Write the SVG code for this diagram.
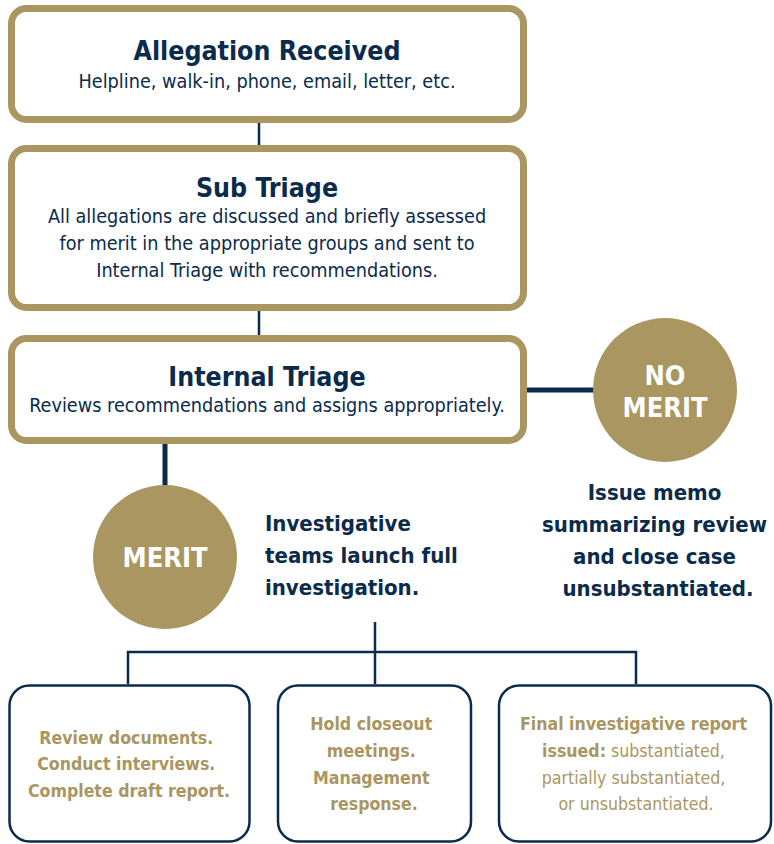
<svg xmlns="http://www.w3.org/2000/svg" width="774" height="844" viewBox="0 0 774 844">
  <style>
    .gbox { fill: #ffffff; stroke: #A99660; stroke-width: 7; }
    .nbox { fill: #ffffff; stroke: #0B2B4C; stroke-width: 2.5; }
    .disc { fill: #A99660; }
    .link { fill: none; stroke: #0B2B4C; stroke-width: 2.5; }
    .thick { fill: none; stroke: #0B2B4C; stroke-width: 5; }
    text { font-family: "DejaVu Sans Condensed", "DejaVu Sans", sans-serif; }
    .title { font-size: 26.5px; font-weight: bold; fill: #0B2B4C; text-anchor: middle; }
    .sub { font-size: 19.7px; fill: #0B2B4C; text-anchor: middle; }
    .disc-t { font-size: 27px; font-weight: bold; fill: #ffffff; text-anchor: middle; }
    .note { font-size: 22px; font-weight: bold; fill: #0B2B4C; }
    .step { font-size: 17.6px; fill: #A99660; text-anchor: middle; }
    .b { font-weight: bold; }
  </style>

  <!-- connectors -->
  <g id="connectors">
    <line class="link" x1="259" y1="122" x2="259" y2="146"/>
    <line class="link" x1="259" y1="310" x2="259" y2="336"/>
    <line class="thick" x1="525" y1="390" x2="596" y2="390"/>
    <line class="thick" x1="165" y1="442" x2="165" y2="487"/>
    <path class="link" d="M375 622 V684 M128 684 V652 H636 V684"/>
  </g>

  <g id="allegation-received">
    <rect class="gbox" x="11.5" y="8.5" width="512" height="111" rx="15"/>
    <text class="title" x="267" y="60">Allegation Received</text>
    <text class="sub" x="267" y="88">Helpline, walk-in, phone, email, letter, etc.</text>
  </g>

  <g id="sub-triage">
    <rect class="gbox" x="11.5" y="148.5" width="512" height="159" rx="15"/>
    <text class="title" x="267" y="197">Sub Triage</text>
    <text class="sub" x="267" y="223">All allegations are discussed and briefly assessed</text>
    <text class="sub" x="267" y="250">for merit in the appropriate groups and sent to</text>
    <text class="sub" x="267" y="277">Internal Triage with recommendations.</text>
  </g>

  <g id="internal-triage">
    <rect class="gbox" x="11.5" y="338.5" width="512" height="102" rx="15"/>
    <text class="title" x="267" y="386">Internal Triage</text>
    <text class="sub" x="267" y="412">Reviews recommendations and assigns appropriately.</text>
  </g>

  <g id="no-merit">
    <circle class="disc" cx="665" cy="390" r="72"/>
    <text class="disc-t" x="665" y="385">NO</text>
    <text class="disc-t" x="665" y="417">MERIT</text>
    <text class="note" text-anchor="middle">
      <tspan x="658" y="500">Issue memo</tspan>
      <tspan x="658" y="532">summarizing review</tspan>
      <tspan x="658" y="564">and close case</tspan>
      <tspan x="658" y="596">unsubstantiated.</tspan>
    </text>
  </g>

  <g id="merit">
    <circle class="disc" cx="165" cy="557" r="72"/>
    <text class="disc-t" x="165" y="567">MERIT</text>
    <text class="note">
      <tspan x="265" y="531">Investigative</tspan>
      <tspan x="265" y="563">teams launch full</tspan>
      <tspan x="265" y="595">investigation.</tspan>
    </text>
  </g>

  <g id="review-documents">
    <rect class="nbox" x="9.5" y="685.5" width="240" height="156" rx="20"/>
    <text class="step b">
      <tspan x="129" y="744">Review documents.</tspan>
      <tspan x="129" y="770">Conduct interviews.</tspan>
      <tspan x="129" y="797">Complete draft report.</tspan>
    </text>
  </g>

  <g id="closeout">
    <rect class="nbox" x="278" y="685.5" width="193" height="156" rx="20"/>
    <text class="step b">
      <tspan x="374" y="730">Hold closeout</tspan>
      <tspan x="374" y="757">meetings.</tspan>
      <tspan x="374" y="784">Management</tspan>
      <tspan x="374" y="810">response.</tspan>
    </text>
  </g>

  <g id="final-report">
    <rect class="nbox" x="499" y="685.5" width="272" height="156" rx="20"/>
    <text class="step">
      <tspan x="636" y="730" class="b">Final investigative report</tspan>
      <tspan x="636" y="757"><tspan class="b">issued:</tspan> substantiated,</tspan>
      <tspan x="636" y="784">partially substantiated,</tspan>
      <tspan x="636" y="810">or unsubstantiated.</tspan>
    </text>
  </g>
</svg>
